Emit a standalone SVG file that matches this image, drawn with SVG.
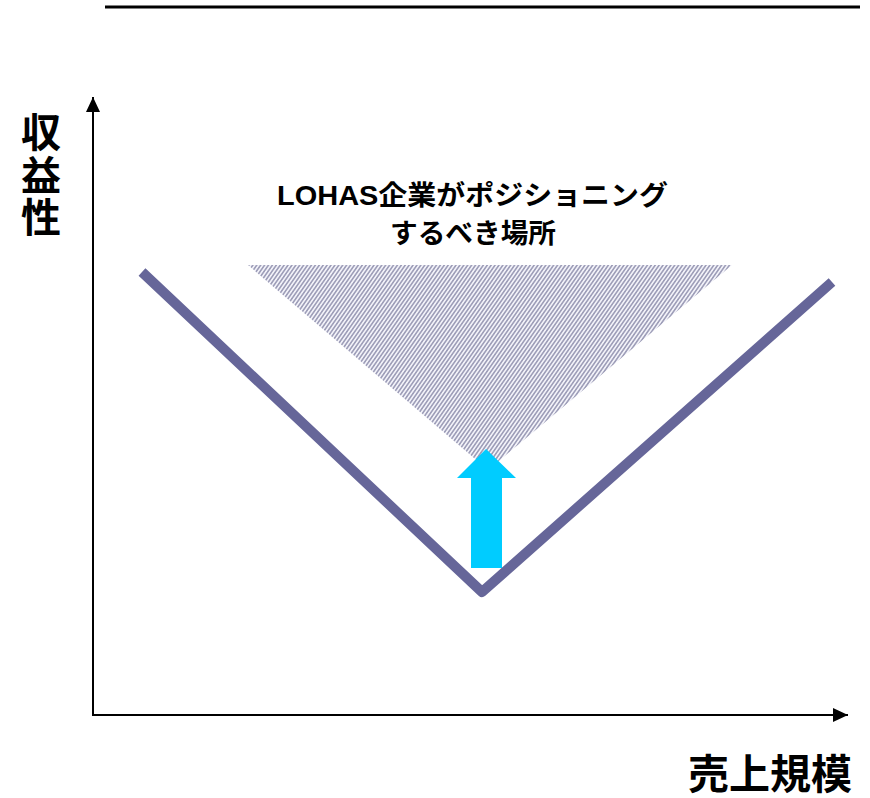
<svg xmlns="http://www.w3.org/2000/svg" width="870" height="798" viewBox="0 0 870 798">
<style>
.lbl{font-family:"Liberation Sans","Noto Sans CJK JP",sans-serif;font-weight:bold;fill:#000}
.axis{stroke:#000;stroke-width:2;fill:none}
</style>
<defs>
<pattern id="hatch" patternUnits="userSpaceOnUse" width="3.2" height="3.2" patternTransform="rotate(35)">
<rect width="3.2" height="3.2" fill="#f2f2f9"/>
<line x1="0.8" y1="0" x2="0.8" y2="3.2" stroke="#8c8cab" stroke-width="1.3"/>
</pattern>
<marker id="ah" markerWidth="15" markerHeight="14" refX="15" refY="7" orient="auto" markerUnits="userSpaceOnUse">
<path d="M0,0 L15,7 L0,14 Z" fill="#000"/>
</marker>
</defs>
<line x1="105" y1="7" x2="860" y2="7" stroke="#000" stroke-width="3"/>
<g id="connectors">
<line class="axis" x1="93" y1="716" x2="93" y2="97" marker-end="url(#ah)"/>
<line class="axis" x1="92" y1="715" x2="848" y2="715" marker-end="url(#ah)"/>
</g>
<g id="zone">
<polygon points="248,265 732,265 488,470" fill="url(#hatch)"/>
</g>
<g id="vcurve">
<polyline points="142,272 482,592 832,282" fill="none" stroke="#666699" stroke-width="10" stroke-linejoin="round"/>
</g>
<g id="arrow">
<polygon points="486,449 516,478 502,478 502,568 471,568 471,478 457,478" fill="#00ccff"/>
</g>
<g id="title">
<text class="lbl" x="277" y="205" font-size="27" textLength="391" lengthAdjust="spacingAndGlyphs">LOHAS企業がポジショニング</text>
<text class="lbl" x="390" y="243" font-size="27" textLength="166" lengthAdjust="spacingAndGlyphs">するべき場所</text>
</g>
<g id="ylabel">
<text class="lbl" x="41" y="147" font-size="40" text-anchor="middle">収</text>
<text class="lbl" x="41" y="190" font-size="40" text-anchor="middle">益</text>
<text class="lbl" x="41" y="232" font-size="40" text-anchor="middle">性</text>
</g>
<g id="xlabel">
<text class="lbl" x="688" y="789" font-size="41">売上規模</text>
</g>
</svg>
